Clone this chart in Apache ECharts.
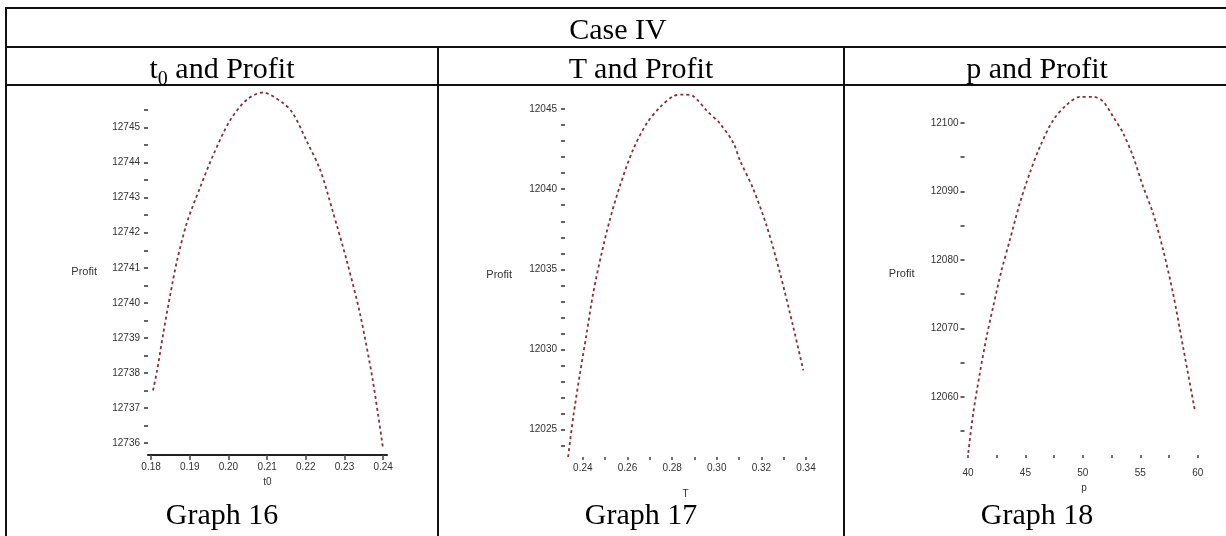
<!DOCTYPE html>
<html>
<head>
<meta charset="utf-8">
<script src="https://cdn.jsdelivr.net/npm/echarts@6/dist/echarts.min.js"></script>
<style>
  body { margin: 0; background: #fff; }
  #wrap { position: relative; width: 1226px; height: 536px; overflow: hidden; font-family: "Liberation Serif", serif; }
  #chart { position: absolute; left: 0; top: 0; width: 1226px; height: 536px; }
  .hl, .vl { position: absolute; background: #111; }
  .hl { height: 2px; }
  .vl { width: 2px; }
  .txt { position: absolute; font-size: 30px; line-height: 30px; color: #000; text-align: center; white-space: nowrap; }
  .txt sub { font-size: 20px; line-height: 0; }
</style>
</head>
<body>
<div id="wrap">
  <div id="chart"></div>
  <!-- table lines -->
  <div class="hl" style="left:5px; width:1230px; top:7px"></div>
  <div class="hl" style="left:5px; width:1230px; top:46px"></div>
  <div class="hl" style="left:5px; width:1230px; top:84px"></div>
  <div class="vl" style="left:5px; top:7px; height:540px"></div>
  <div class="vl" style="left:437px; top:46px; height:500px"></div>
  <div class="vl" style="left:843px; top:46px; height:500px"></div>
  <!-- texts -->
  <div class="txt" style="left:0; width:1236px; top:14px">Case IV</div>
  <div class="txt" style="left:6px; width:432px; top:53px">t<sub>0</sub> and Profit</div>
  <div class="txt" style="left:438px; width:406px; top:53px">T and Profit</div>
  <div class="txt" style="left:844px; width:386px; top:53px">p and Profit</div>
  <div class="txt" style="left:6px; width:432px; top:499px">Graph 16</div>
  <div class="txt" style="left:438px; width:406px; top:499px">Graph 17</div>
  <div class="txt" style="left:844px; width:386px; top:499px">Graph 18</div>
</div>
<script>
// Graph 16: t0 vs profit
var t0Values = [0.1805, 0.1816, 0.1831, 0.1849, 0.1867, 0.1893, 0.1927, 0.1960, 0.2004, 0.2048, 0.2089,
  0.2141, 0.2167, 0.2203, 0.2237, 0.2270, 0.2306, 0.2340, 0.2373, 0.2399];
var t0Profit = [12737.5, 12738.1, 12739.1, 12740.2, 12741.2, 12742.3, 12743.3, 12744.2, 12745.2, 12745.8, 12746.0,
  12745.7, 12745.4, 12744.6, 12743.8, 12742.6, 12741.2, 12739.7, 12737.8, 12735.9];
var t0Ticks = [0.18, 0.19, 0.20, 0.21, 0.22, 0.23, 0.24];
var t0ProfitTicks = [12736, 12737, 12738, 12739, 12740, 12741, 12742, 12743, 12744, 12745];
var t0ProfitMinor = [12735.5, 12736, 12736.5, 12737, 12737.5, 12738, 12738.5, 12739, 12739.5, 12740, 12740.5,
  12741, 12741.5, 12742, 12742.5, 12743, 12743.5, 12744, 12744.5, 12745, 12745.5];

// Graph 17: T vs profit
var tValues = [0.2334, 0.2357, 0.2387, 0.2417, 0.2446, 0.2484, 0.2521, 0.2566, 0.2626, 0.2686, 0.2745, 0.2805,
  0.2850, 0.2895, 0.2955, 0.3014, 0.3074, 0.3104, 0.3164, 0.3224, 0.3283, 0.3343, 0.3388];
var tProfit = [12023.3, 12025.8, 12028.5, 12031.0, 12033.5, 12036.0, 12038.1, 12040.2, 12042.5, 12044.1, 12045.1,
  12045.8, 12045.9, 12045.8, 12044.9, 12044.1, 12042.9, 12041.8, 12040.0, 12037.7, 12034.8, 12031.4, 12028.7];
var tTicks = [0.24, 0.26, 0.28, 0.30, 0.32, 0.34];
var tMinor = [0.24, 0.25, 0.26, 0.27, 0.28, 0.29, 0.30, 0.31, 0.32, 0.33, 0.34];
var tProfitTicks = [12025, 12030, 12035, 12040, 12045];
var tProfitMinor = [12024, 12025, 12026, 12027, 12028, 12029, 12030, 12031, 12032, 12033, 12034, 12035,
  12036, 12037, 12038, 12039, 12040, 12041, 12042, 12043, 12044, 12045];

// Graph 18: p vs profit
var pValues = [40.03, 40.46, 41.04, 41.63, 42.20, 42.93, 43.65, 44.52, 45.39, 46.26, 47.42, 48.58,
  49.74, 50.90, 51.77, 52.63, 53.50, 54.37, 55.24, 56.11, 56.98, 57.85, 58.72, 59.74];
var pProfit = [12051.8, 12057.6, 12063.5, 12068.8, 12073.2, 12078.5, 12082.9, 12088.3, 12092.7, 12096.5, 12100.4,
  12102.6, 12103.8, 12103.8, 12103.1, 12100.9, 12098.5, 12095.1, 12090.7, 12086.8, 12081.5, 12075.1, 12067.3, 12058.1];
var pTicks = [40, 45, 50, 55, 60];
var pMinor = [40, 42.5, 45, 47.5, 50, 52.5, 55, 57.5, 60];
var pProfitTicks = [12060, 12070, 12080, 12090, 12100];
var pProfitMinor = [12055, 12060, 12065, 12070, 12075, 12080, 12085, 12090, 12095, 12100];

function zip(xs, ys) {
  return xs.map(function (x, i) { return [x, ys[i]]; });
}

var labelStyle = { color: "#333", fontSize: 10, fontFamily: "Liberation Sans" };

function yAxis(idx, min, max, labels, ticks, margin, nameGap) {
  return {
    type: "value",
    gridIndex: idx,
    min: min,
    max: max,
    name: "Profit",
    nameLocation: "middle",
    nameRotate: 0,
    nameGap: nameGap,
    nameTextStyle: { color: "#333", fontSize: 11, fontFamily: "Liberation Sans" },
    axisLine: { show: false },
    axisTick: { show: true, length: 4, customValues: ticks, lineStyle: { color: "#333", width: 1.5 } },
    axisLabel: Object.assign({
      margin: margin,
      customValues: labels,
      formatter: function (v) { return String(v); },
    }, labelStyle),
    splitLine: { show: false },
  };
}

function xAxis(idx, min, max, labels, ticks, decimals, margin, name, nameGap, showLine) {
  return {
    type: "value",
    gridIndex: idx,
    min: min,
    max: max,
    name: name,
    nameLocation: "middle",
    nameGap: nameGap,
    nameTextStyle: { color: "#333", fontSize: 10, fontFamily: "Liberation Sans" },
    axisLine: { show: showLine, lineStyle: { color: "#222", width: 2 } },
    axisTick: { show: true, length: showLine ? 5 : 3, customValues: ticks, lineStyle: { color: "#444", width: 1.5 } },
    axisLabel: Object.assign({
      margin: margin,
      customValues: labels,
      formatter: function (v) { return v.toFixed(decimals); },
    }, labelStyle),
    splitLine: { show: false },
  };
}

function series(idx, data) {
  return {
    type: "line",
    xAxisIndex: idx,
    yAxisIndex: idx,
    data: data,
    smooth: 0.3,
    showSymbol: false,
    animation: false,
    lineStyle: { color: "#8a2e3e", width: 1.8, type: [3, 3] },
  };
}

var myChart = echarts.init(document.getElementById("chart"));
var option = {
  backgroundColor: "transparent",
  grid: [
    { left: 148, width: 239, top: 89, height: 366 },
    { left: 565, width: 241, top: 93, height: 364 },
    { left: 964.5, width: 239, top: 92, height: 363 },
  ],
  xAxis: [
    xAxis(0, 0.1792, 0.241, t0Ticks, t0Ticks, 2, 7, "t0", 16, true),
    xAxis(1, 0.232, 0.34, tTicks, tMinor, 2, 6, "T", 32, false),
    xAxis(2, 39.7, 60.5, pTicks, pMinor, 0, 13, "p", 28, false),
  ],
  yAxis: [
    yAxis(0, 12735.66, 12746.1, t0ProfitTicks, t0ProfitMinor, 8, 51),
    yAxis(1, 12023.3, 12046, tProfitTicks, tProfitMinor, 8, 53),
    yAxis(2, 12051.5, 12104.5, pProfitTicks, pProfitMinor, 6, 50),
  ],
  series: [
    series(0, zip(t0Values, t0Profit)),
    series(1, zip(tValues, tProfit)),
    series(2, zip(pValues, pProfit)),
  ],
};
option && myChart.setOption(option);
</script>
</body>
</html>
